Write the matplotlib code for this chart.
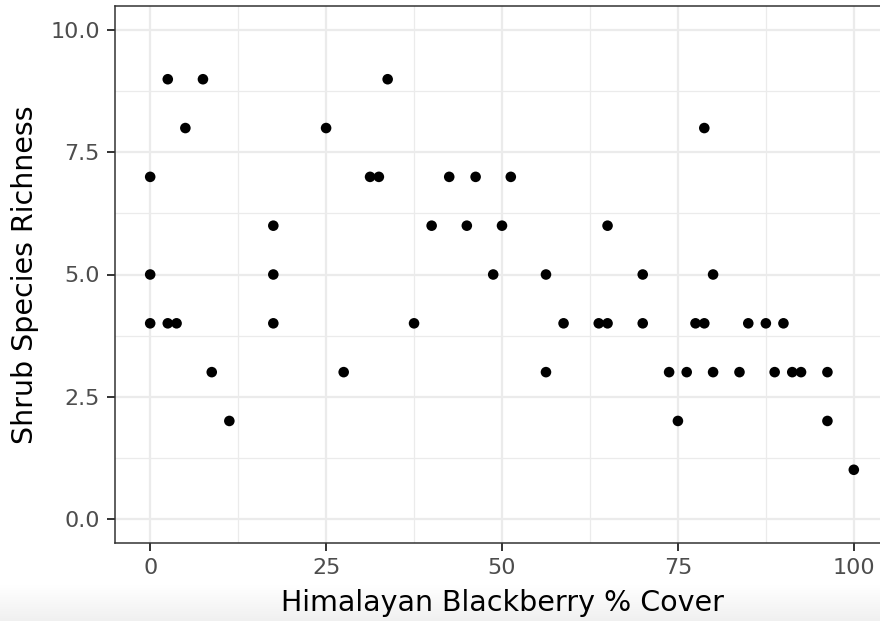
import matplotlib
matplotlib.use("Agg")
import matplotlib.pyplot as plt
import numpy as np

# Data
cover = [0, 0, 0, 2.5, 2.5, 3.75, 5, 7.5, 8.75, 11.25,
         17.5, 17.5, 17.5, 25, 27.5, 31.25, 32.5, 33.75, 37.5, 40,
         42.5, 45, 46.25, 48.75, 50, 51.25, 56.25, 56.25, 58.75, 63.75,
         65, 65, 70, 70, 73.75, 75, 76.25, 77.5, 78.75, 78.75,
         80, 80, 83.75, 85, 87.5, 88.75, 90, 91.25, 92.5, 96.25,
         96.25, 100]
richness = [7, 5, 4, 9, 4, 4, 8, 9, 3, 2,
            6, 5, 4, 8, 3, 7, 7, 9, 4, 6,
            7, 6, 7, 5, 6, 7, 5, 3, 4, 4,
            6, 4, 5, 4, 3, 2, 3, 4, 8, 4,
            5, 3, 3, 4, 4, 3, 4, 3, 3, 3,
            2, 1]
x_ticks = [0, 25, 50, 75, 100]
x_ticklabels = ["0", "25", "50", "75", "100"]
y_ticks = [0.0, 2.5, 5.0, 7.5, 10.0]
y_ticklabels = ["0.0", "2.5", "5.0", "7.5", "10.0"]
x_minor = [12.5, 37.5, 62.5, 87.5]
y_minor = [1.25, 3.75, 6.25, 8.75]
xlabel = "Himalayan Blackberry % Cover"
ylabel = "Shrub Species Richness"

W, H = 880, 621
fig = plt.figure(figsize=(W / 100, H / 100), dpi=100)
fig.patch.set_facecolor("white")

# subtle gray gradient at the bottom of the image
bg = fig.add_axes([0, 0, 1, 1], zorder=-10)
grad = np.ones((H, 1))
rows = np.arange(H)
start = 585
grad[start:, 0] = 1 - 0.06 * ((rows[start:] - start) / (H - start))
bg.imshow(np.dstack([grad, grad, grad]), aspect="auto", extent=[0, 1, 0, 1],
          vmin=0, vmax=1, interpolation="bilinear")
bg.set_axis_off()

left, right, top, bottom = 115, 889, 6, 543
ax = fig.add_axes([left / W, (H - bottom) / H, (right - left) / W, (bottom - top) / H])
ax.set_facecolor("white")

ax.set_xlim(-5, 105)
ax.set_ylim(-0.5, 10.5)

ax.set_xticks(x_ticks)
ax.set_xticklabels(x_ticklabels)
ax.set_yticks(y_ticks)
ax.set_yticklabels(y_ticklabels)
ax.set_xticks(x_minor, minor=True)
ax.set_yticks(y_minor, minor=True)

ax.grid(True, which="major", color="#EBEBEB", linewidth=1.6, zorder=0)
ax.grid(True, which="minor", color="#EBEBEB", linewidth=0.9, zorder=0)
ax.set_axisbelow(True)

ax.tick_params(which="major", length=6, width=1.4, color="#333333",
               labelsize=16, labelcolor="#4D4D4D", pad=5)
ax.tick_params(which="minor", length=0)

for s in ax.spines.values():
    s.set_color("#333333")
    s.set_linewidth(1.1)

ax.scatter(cover, richness, s=58, color="black", edgecolors="none", zorder=3,
           clip_on=False)

ax.set_xlabel(xlabel, fontsize=20.5, color="black", labelpad=8)
ax.set_ylabel(ylabel, fontsize=20.5, color="black", labelpad=8)

fig.savefig("out.png", dpi=100)
